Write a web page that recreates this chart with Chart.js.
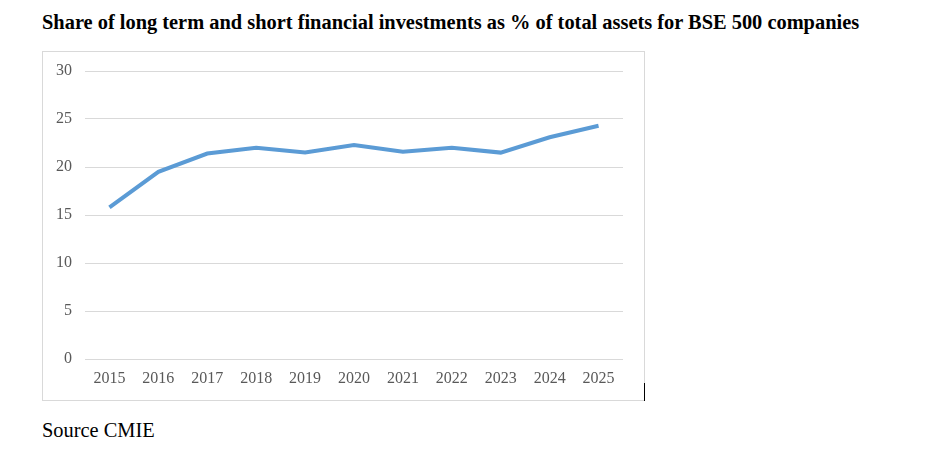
<!DOCTYPE html><html><head><title>Financial investments share</title>
<style>
html,body{margin:0;padding:0;background:#fff;width:939px;height:451px;overflow:hidden}
#title{position:absolute;left:42px;top:11px;font:bold 20.4px "Liberation Serif","Times New Roman",serif;color:#000;white-space:nowrap}
#box{position:absolute;left:42px;top:51px;width:601px;height:348px;border:1px solid #d9d9d9}
#source{position:absolute;left:42px;top:419px;font:20.4px "Liberation Serif","Times New Roman",serif;color:#000}
#mark{position:absolute;left:644px;top:383px;width:1px;height:18px;background:#000}
</style>
<script src="https://cdn.jsdelivr.net/npm/chart.js"></script>
</head><body>
<div id="title">Share of long term and short financial investments as % of total assets for BSE 500 companies</div>
<div id="box"><canvas id="graph"></canvas></div>
<div id="mark"></div>
<div id="source">Source CMIE</div>
<script>
const years = ['2015','2016','2017','2018','2019','2020','2021','2022','2023','2024','2025'];
const sharePct = [15.8, 19.5, 21.4, 22.0, 21.5, 22.3, 21.6, 22.0, 21.5, 23.1, 24.3];
const yTicks = [0, 5, 10, 15, 20, 25, 30];

const font = { family: '"Liberation Serif", "Times New Roman", serif', size: 16 };
new Chart(document.getElementById('graph'), {
  type: 'line',
  data: { labels: years, datasets: [{ data: sharePct, borderColor: '#5b9bd5', borderWidth: 4, pointRadius: 0, tension: 0, fill: false }] },
  options: {
    responsive: true, maintainAspectRatio: false, animation: false,
    layout: { padding: { left: 0, right: 21, top: 19, bottom: 0 } },
    plugins: { legend: { display: false }, tooltip: { enabled: false } },
    scales: {
      x: {
        offset: true,
        grid: { display: false, drawTicks: false },
        border: { display: false },
        ticks: { color: '#595959', font, padding: 10, maxRotation: 0 },
        afterFit: s => { s.height = 41; }
      },
      y: {
        min: 0, max: 30,
        afterBuildTicks: s => { s.ticks = yTicks.map(v => ({ value: v })); },
        grid: { color: '#d9d9d9', drawTicks: false },
        border: { display: false },
        ticks: { color: '#595959', font, padding: 13 },
        afterFit: s => { s.width = 42; s.paddingTop = 0; s.paddingBottom = 0; }
      }
    }
  }
});
</script>
</body></html>
